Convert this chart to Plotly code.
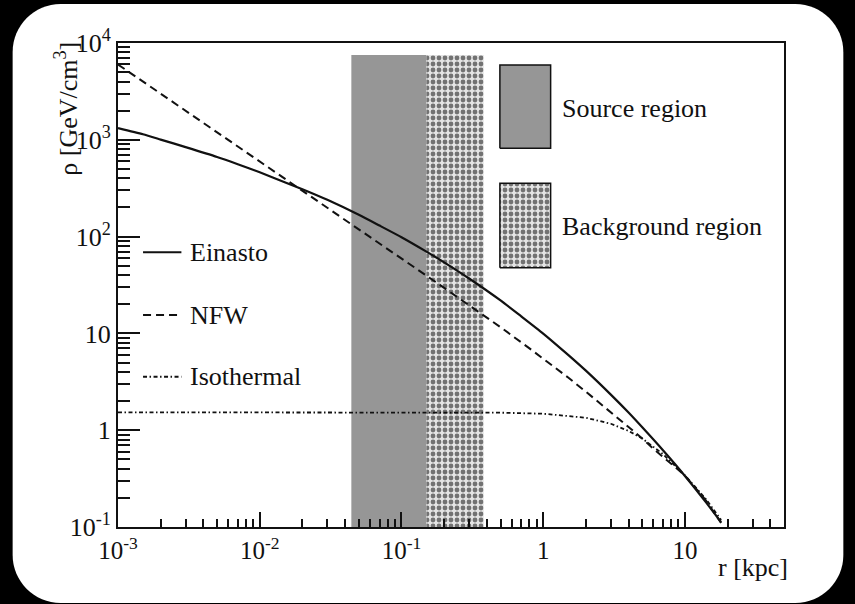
import plotly.graph_objects as go

# ---------------- data ----------------
r_einasto = [0.001, 0.0015, 0.002, 0.003, 0.005, 0.007, 0.01, 0.015, 0.02, 0.03, 0.05, 0.07, 0.1, 0.15,
             0.2, 0.3, 0.5, 0.7, 1, 1.5, 2, 3, 4, 5, 7, 10, 14, 18]
rho_einasto = [1320, 1140, 1005, 840, 665, 560, 462, 365, 309, 240, 168, 130, 98.6, 70,
               54.2, 36.9, 21.9, 15.0, 9.97, 6.0, 4.12, 2.33, 1.52, 1.07, 0.62, 0.337, 0.182, 0.112]

r_nfw = [0.001, 0.002, 0.005, 0.01, 0.016, 0.02, 0.05, 0.1, 0.15, 0.2, 0.5, 0.8, 1, 1.5, 2, 3, 4, 5, 6, 8, 10, 14, 18]
rho_nfw = [6000, 3000, 1200, 600, 372, 298, 121, 60, 39.5, 29.5, 11.6, 7.0, 5.5, 3.5, 2.5, 1.55, 1.08, 0.82,
           0.64, 0.45, 0.34, 0.19, 0.11]

r_iso = [0.001, 0.01, 0.1, 0.5, 1, 2, 3, 4, 5, 7, 10, 14, 18]
rho_iso = [1.53, 1.53, 1.53, 1.517, 1.48, 1.344, 1.166, 0.984, 0.82, 0.567, 0.342, 0.196, 0.118]

source_r = [0.0443, 0.150]
background_r = [0.150, 0.381]
band_rho = [0.1, 7500]

x_tickvals = [0.001, 0.01, 0.1, 1, 10]
x_ticktext = ["10<sup>-3</sup>", "10<sup>-2</sup>", "10<sup>-1</sup>", "1", "10"]
y_tickvals = [0.1, 1, 10, 100, 1000, 10000]
y_ticktext = ["10<sup>-1</sup>", "1", "10", "10<sup>2</sup>", "10<sup>3</sup>", "10<sup>4</sup>"]

curve_names = ["Einasto", "NFW", "Isothermal"]
region_names = ["Source region", "Background region"]

# ---------------- styling ----------------
FONT = "Liberation Serif, serif"
INK = "#111111"
GREY = "#969696"
DASH_NFW = "8px,5px"
DASH_ISO = "4px,2.5px,1.5px,2.5px"
PATTERN = dict(shape=".", size=6, solidity=0.5, fgcolor="#000000", bgcolor="#e4e4e4")

x_minor = [m * 10 ** e for e in range(-3, 2) for m in range(2, 10) if m * 10 ** e < 50]
y_minor = [m * 10 ** e for e in range(-1, 4) for m in range(2, 10)]

fig = go.Figure()

def band(xs, ys, **kw):
    return go.Scatter(x=[xs[0], xs[0], xs[1], xs[1], xs[0]],
                      y=[ys[0], ys[1], ys[1], ys[0], ys[0]],
                      mode="lines", fill="toself", line=dict(width=0),
                      hoverinfo="skip", showlegend=False, **kw)

fig.add_trace(band(source_r, band_rho, fillcolor=GREY))
fig.add_trace(band(background_r, band_rho, fillcolor="white", fillpattern=PATTERN))

fig.add_trace(go.Scatter(x=r_iso, y=rho_iso, mode="lines",
                         line=dict(color=INK, width=1.8, dash=DASH_ISO), showlegend=False))
fig.add_trace(go.Scatter(x=r_nfw, y=rho_nfw, mode="lines",
                         line=dict(color=INK, width=2, dash=DASH_NFW), showlegend=False))
fig.add_trace(go.Scatter(x=r_einasto, y=rho_einasto, mode="lines", line_shape="spline",
                         line=dict(color=INK, width=2.2, smoothing=0.6), showlegend=False))

# ---------------- manual legend on an overlay [0,1] frame ----------------
leg_line_x = [0.0376, 0.0952]
leg_line_y = [0.5676, 0.438, 0.3105]
leg_dash = ["solid", DASH_NFW, DASH_ISO]
for yy, dd in zip(leg_line_y, leg_dash):
    fig.add_trace(go.Scatter(x=leg_line_x, y=[yy, yy], mode="lines", xaxis="x2", yaxis="y2",
                             line=dict(color=INK, width=2, dash=dd), showlegend=False,
                             hoverinfo="skip"))

box_x = [0.5734, 0.6496]
fig.add_trace(band(box_x, [0.7824, 0.9545], fillcolor=GREY, xaxis="x2", yaxis="y2"))
fig.add_trace(band(box_x, [0.5357, 0.7101], fillcolor="white", fillpattern=PATTERN,
                   xaxis="x2", yaxis="y2"))
for yy in ([0.7824, 0.9545], [0.5357, 0.7101]):
    fig.add_trace(go.Scatter(x=[box_x[0], box_x[0], box_x[1], box_x[1], box_x[0]],
                             y=[yy[0], yy[1], yy[1], yy[0], yy[0]], mode="lines",
                             xaxis="x2", yaxis="y2", line=dict(color=INK, width=1.5),
                             showlegend=False, hoverinfo="skip"))

annots = []
for name, yy in zip(curve_names, leg_line_y):
    annots.append(dict(x=0.1047, y=yy, xref="paper", yref="paper", text=name, showarrow=False,
                       xanchor="left", yanchor="middle", font=dict(family=FONT, size=26, color=INK)))
for name, yy in zip(region_names, [0.8657, 0.6219]):
    annots.append(dict(x=0.6635, y=yy, xref="paper", yref="paper", text=name, showarrow=False,
                       xanchor="left", yanchor="middle", font=dict(family=FONT, size=26, color=INK)))
annots.append(dict(x=-0.077, y=1.0062, xref="paper", yref="paper", text="ρ [GeV/cm<sup>3</sup>]",
                   textangle=-90, showarrow=False, xanchor="center", yanchor="top",
                   font=dict(family=FONT, size=26, color=INK)))
annots.append(dict(x=1.0087, y=-0.0847, xref="paper", yref="paper", text="r [kpc]",
                   showarrow=False, xanchor="right", yanchor="middle",
                   font=dict(family=FONT, size=26, color=INK)))

# rounded white panel (paper coordinates)
u0, u1, vt, vb = -0.1582, 1.0891, 1.0806, -0.157
ru, rv = 48 / 666, 48 / 484
panel = (f"M {u0+ru},{vt} L {u1-ru},{vt} C {u1-0.45*ru},{vt} {u1},{vt-0.45*rv} {u1},{vt-rv} "
         f"L {u1},{vb+rv} C {u1},{vb+0.45*rv} {u1-0.45*ru},{vb} {u1-ru},{vb} L {u0+ru},{vb} "
         f"C {u0+0.45*ru},{vb} {u0},{vb+0.45*rv} {u0},{vb+rv} L {u0},{vt-rv} "
         f"C {u0},{vt-0.45*rv} {u0+0.45*ru},{vt} {u0+ru},{vt} Z")

fig.update_layout(
    width=855, height=604,
    margin=dict(l=118, r=71, t=43, b=77, autoexpand=False),
    paper_bgcolor="black", plot_bgcolor="white",
    showlegend=False,
    font=dict(family=FONT, color=INK),
    shapes=[dict(type="path", path=panel, xref="paper", yref="paper",
                 fillcolor="white", line=dict(width=0), layer="below")],
    annotations=annots,
    xaxis=dict(type="log", range=[-3, 1.69897], tickmode="array", tickvals=x_tickvals,
               ticktext=x_ticktext, ticks="inside", ticklen=15, tickwidth=1.5, tickcolor=INK,
               minor=dict(tickmode="array", tickvals=x_minor, ticks="inside", ticklen=8,
                          tickwidth=1.5, tickcolor=INK, showgrid=False),
               showgrid=False, zeroline=False, showline=True, mirror=True, linecolor=INK,
               linewidth=2, tickfont=dict(family=FONT, size=25, color=INK), automargin=False),
    yaxis=dict(type="log", range=[-1, 4], tickmode="array", tickvals=y_tickvals,
               ticktext=y_ticktext, ticks="inside", ticklen=22, tickwidth=1.5, tickcolor=INK,
               minor=dict(tickmode="array", tickvals=y_minor, ticks="inside", ticklen=12,
                          tickwidth=1.5, tickcolor=INK, showgrid=False),
               showgrid=False, zeroline=False, showline=True, mirror=True, linecolor=INK,
               linewidth=2, tickfont=dict(family=FONT, size=26, color=INK), automargin=False),
    xaxis2=dict(overlaying="x", range=[0, 1], visible=False, fixedrange=True),
    yaxis2=dict(overlaying="y", range=[0, 1], visible=False, fixedrange=True),
)

fig.write_html("out.html")
